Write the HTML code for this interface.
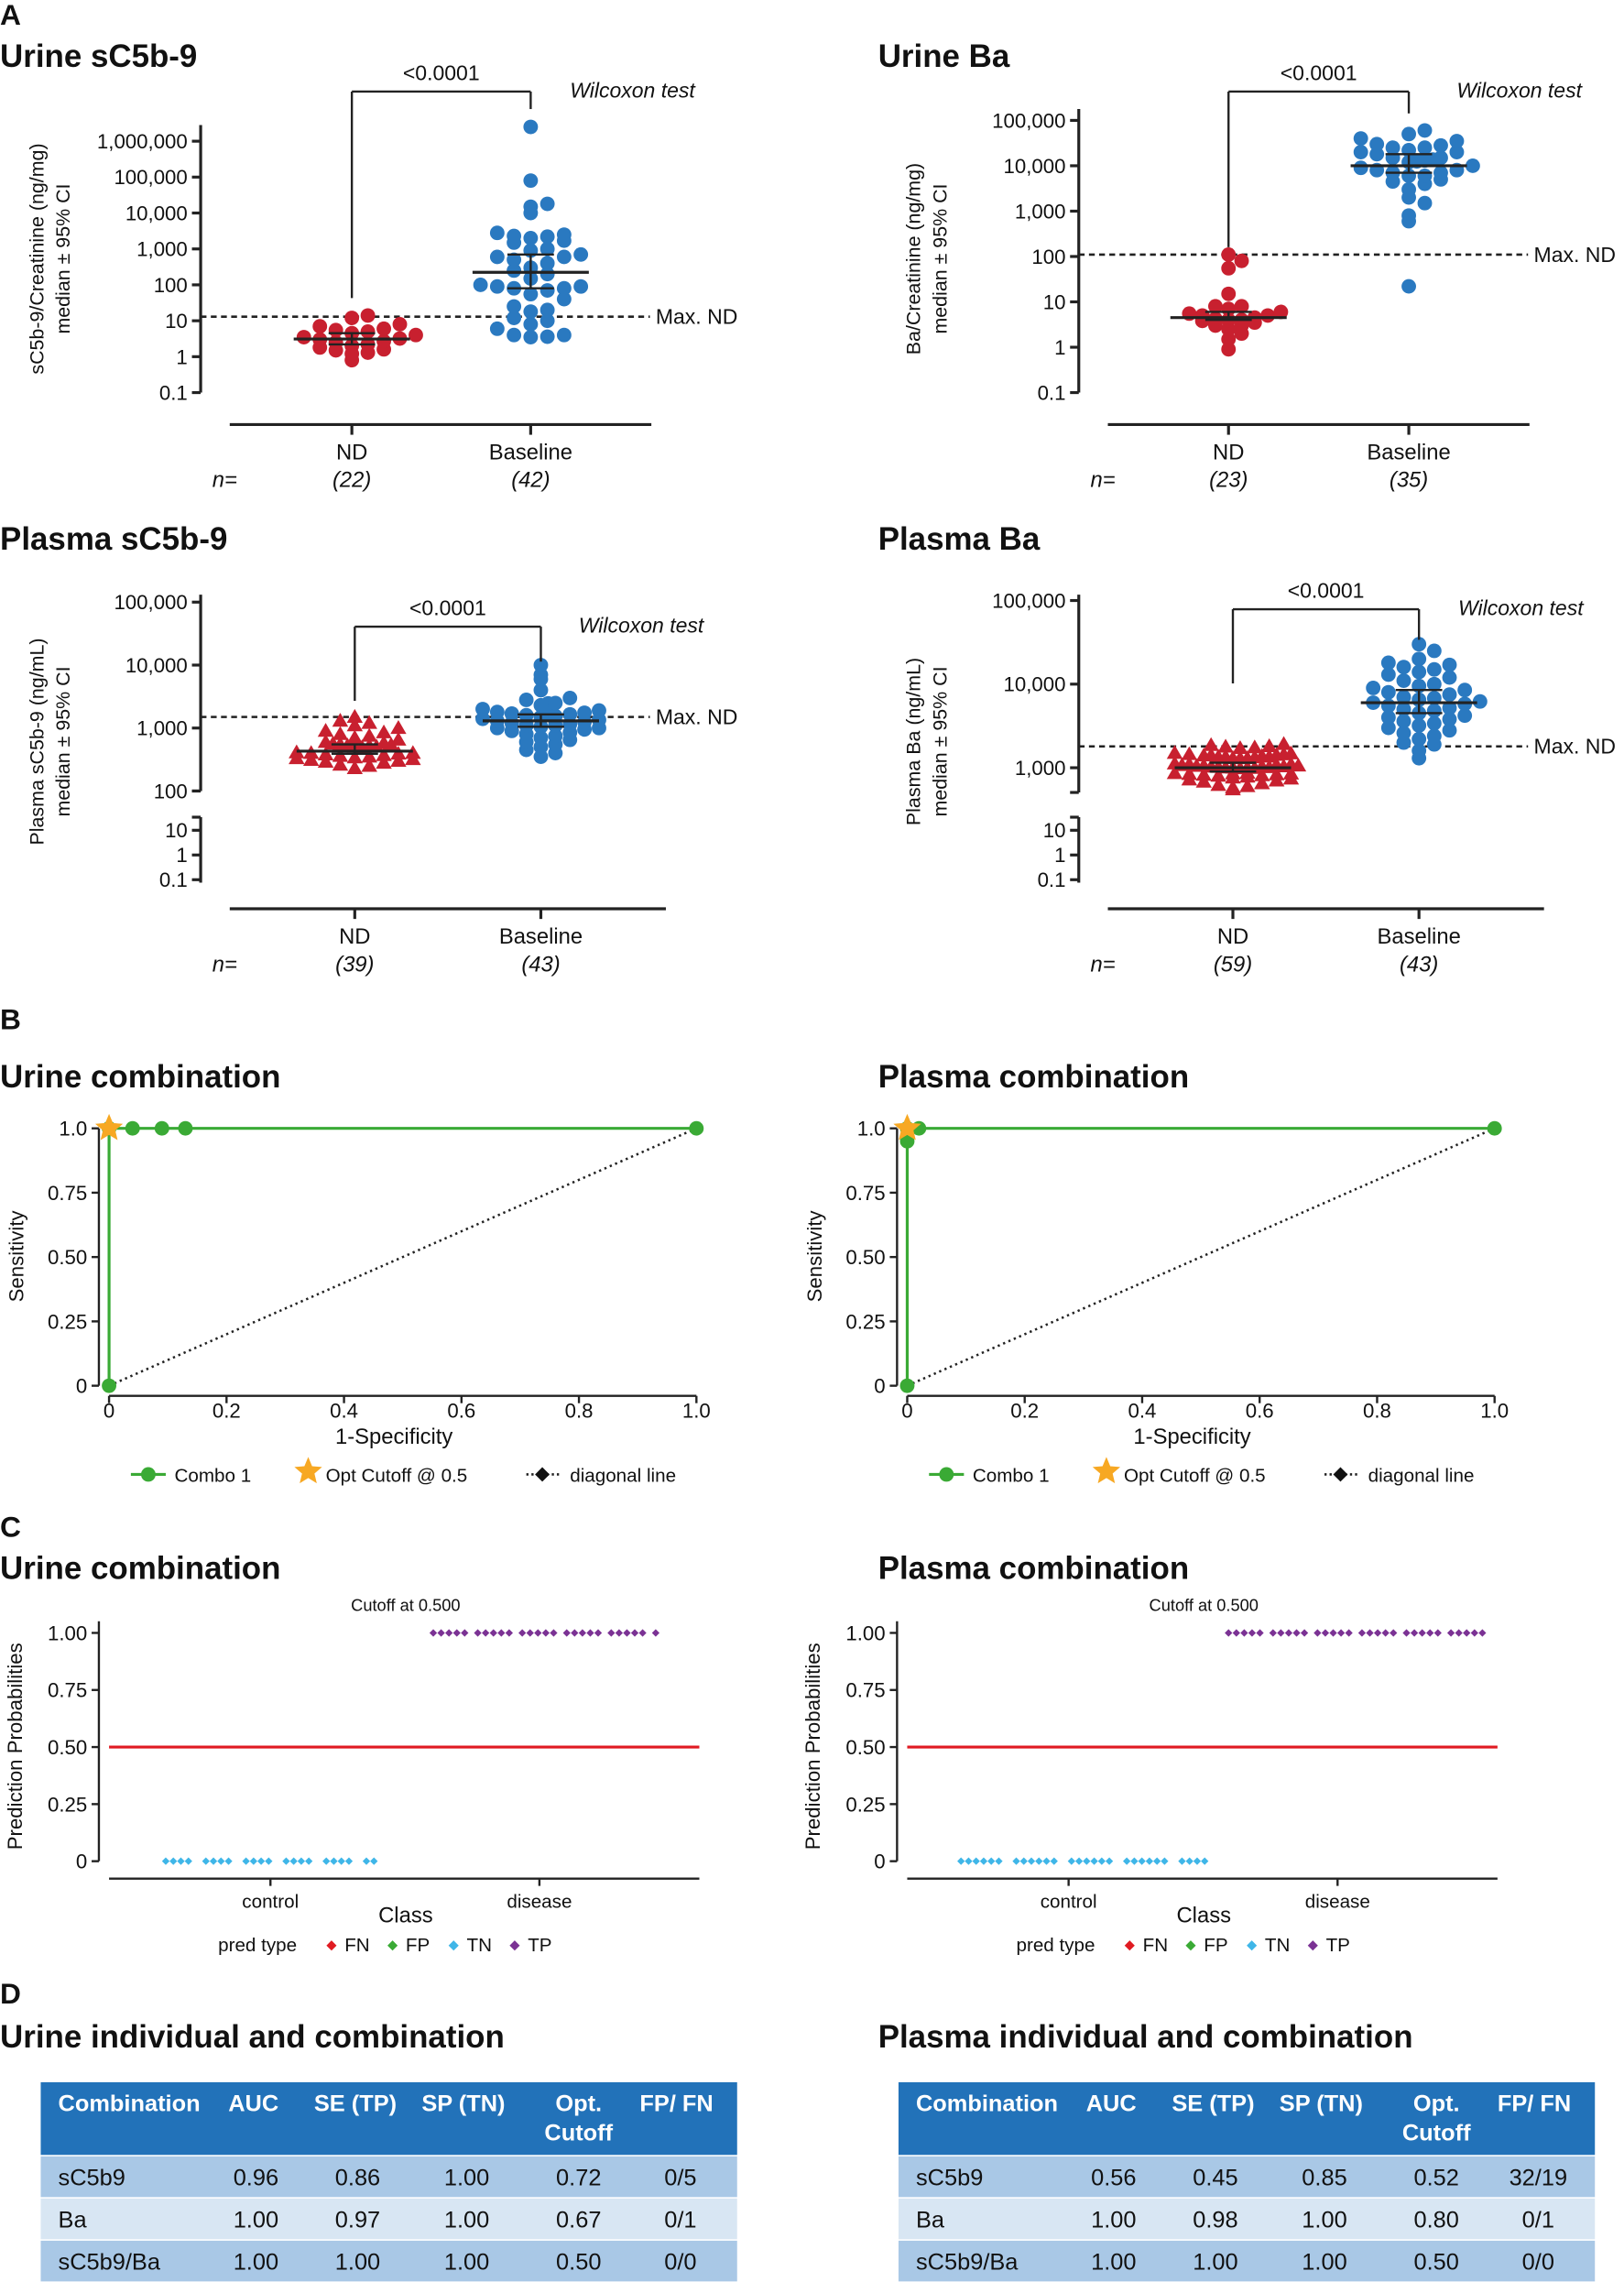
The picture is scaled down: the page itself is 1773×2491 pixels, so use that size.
<!DOCTYPE html>
<html><head><meta charset="utf-8"><style>
html,body{margin:0;padding:0;background:#fff}
svg{display:block;font-family:"Liberation Sans",Arial,sans-serif}
</style></head><body>
<svg id="fig" xmlns="http://www.w3.org/2000/svg" width="1773" height="2491" viewBox="0 0 1117 1569.4">
<g id="static" fill="#111">
<text x="0" y="17" font-size="20" font-weight="bold">A</text>
<text x="0" y="46" font-size="22" font-weight="bold">Urine sC5b-9</text>
<text x="604" y="46" font-size="22" font-weight="bold">Urine Ba</text>
<text x="0" y="378" font-size="22" font-weight="bold">Plasma sC5b-9</text>
<text x="604" y="378" font-size="22" font-weight="bold">Plasma Ba</text>
<text x="0" y="708" font-size="20" font-weight="bold">B</text>
<text x="0" y="748" font-size="22" font-weight="bold">Urine combination</text>
<text x="604" y="748" font-size="22" font-weight="bold">Plasma combination</text>
<text x="0" y="1057" font-size="20" font-weight="bold">C</text>
<text x="0" y="1086" font-size="22" font-weight="bold">Urine combination</text>
<text x="604" y="1086" font-size="22" font-weight="bold">Plasma combination</text>
<text x="0" y="1378" font-size="20" font-weight="bold">D</text>
<text x="0" y="1408" font-size="22" font-weight="bold">Urine individual and combination</text>
<text x="604" y="1408" font-size="22" font-weight="bold">Plasma individual and combination</text>
</g>
<g id="dyn"></g>
</svg>
<script>
// ---------- data ----------
const urineC5ND=[0.8,1.2,1.3,1.5,1.6,1.8,2,2.2,2.5,2.7,3,3.2,3.5,4,4.5,5,5.5,6,7,8,12,14];
const urineC5BL=[3.5,3.6,4,4,6,8,10,12,18,20,25,40,55,70,80,80,90,90,100,150,200,250,300,400,500,600,700,900,1000,1500,1700,2000,2200,2300,2500,2800,10000,15000,18000,80000,2500000,600];
const urineBaND=[0.9,1.5,2,2.5,3,3,3.5,3.8,4,4,4.2,4.5,5,5,5.5,6,7,8,8,15,55,80,110];
const urineBaBL=[22,600,800,1500,2000,3000,4000,4500,5000,6000,6000,7000,7000,8000,8000,9000,10000,10000,11000,12000,13000,15000,15000,18000,20000,20000,22000,25000,25000,28000,30000,35000,40000,50000,60000];
const plasmaC5ND=[230,250,260,280,290,300,310,320,330,340,350,360,370,380,390,400,400,410,420,430,450,460,480,500,520,550,580,600,650,700,750,800,850,900,1000,1100,1200,1300,1500];
const plasmaC5BL=[350,400,450,500,550,600,650,700,750,800,850,900,950,1000,1000,1050,1100,1100,1150,1200,1250,1300,1350,1400,1450,1500,1550,1600,1650,1700,1750,1800,1900,2000,2100,2300,2500,2800,3000,4000,6000,7000,10000];
const plasmaBaND=[550,580,600,620,650,680,700,720,740,760,780,800,810,820,830,840,850,860,870,880,890,900,910,920,930,940,950,960,980,1000,1000,1020,1040,1060,1080,1100,1100,1120,1150,1180,1200,1200,1250,1280,1300,1300,1350,1380,1400,1420,1450,1480,1500,1520,1550,1580,1600,1650,1700];
const plasmaBaBL=[1300,1600,1900,2000,2200,2400,2600,2800,3000,3200,3400,3600,3800,4000,4200,4500,4800,5000,5200,5500,5800,6000,6200,6500,6800,7000,7500,8000,8500,9000,9500,10000,11000,12000,13000,14000,15000,16000,17000,18000,20000,25000,30000];
const urineTicks=[0.1,1,10,100,1000,10000,100000,1000000];
const urineTickLabels=['0.1','1','10','100','1,000','10,000','100,000','1,000,000'];
const baTicks=[0.1,1,10,100,1000,10000,100000];
const baTickLabels=['0.1','1','10','100','1,000','10,000','100,000'];
const pC5Ticks=[100,1000,10000,100000];
const pC5TickLabels=['100','1,000','10,000','100,000'];
const pBaTicks=[1000,10000,100000];
const pBaTickLabels=['1,000','10,000','100,000'];
const brokenTicks=[0.1,1,10];
const brokenTickLabels=['0.1','1','10'];
const rocUrineFPR=[0,0,0.04,0.09,0.13,1];
const rocUrineTPR=[0,1,1,1,1,1];
const rocPlasmaFPR=[0,0,0,0.02,1];
const rocPlasmaTPR=[0,0.95,1,1,1];
const rocTicksX=[0,0.2,0.4,0.6,0.8,1.0];
const rocTickXLabels=['0','0.2','0.4','0.6','0.8','1.0'];
const rocTicksY=[0,0.25,0.5,0.75,1.0];
const rocTickYLabels=['0','0.25','0.50','0.75','1.0'];
const predUrineControl=[0,0,0,0,0,0,0,0,0,0,0,0,0,0,0,0,0,0,0,0,0,0];
const predUrineDisease=[1,1,1,1,1,1,1,1,1,1,1,1,1,1,1,1,1,1,1,1,1,1,1,1,1,1];
const predPlasmaControl=[0,0,0,0,0,0,0,0,0,0,0,0,0,0,0,0,0,0,0,0,0,0,0,0,0,0,0,0];
const predPlasmaDisease=[1,1,1,1,1,1,1,1,1,1,1,1,1,1,1,1,1,1,1,1,1,1,1,1,1,1,1,1,1,1];
const tableHeader=['Combination','AUC','SE (TP)','SP (TN)','Opt.|Cutoff','FP/ FN'];
const urineRows=[['sC5b9','0.96','0.86','1.00','0.72','0/5'],['Ba','1.00','0.97','1.00','0.67','0/1'],['sC5b9/Ba','1.00','1.00','1.00','0.50','0/0']];
const plasmaRows=[['sC5b9','0.56','0.45','0.85','0.52','32/19'],['Ba','1.00','0.98','1.00','0.80','0/1'],['sC5b9/Ba','1.00','1.00','1.00','0.50','0/0']];

// ---------- helpers ----------
const NS='http://www.w3.org/2000/svg';
const root=document.getElementById('dyn');
function mk(tag,attrs,parent){const e=document.createElementNS(NS,tag);for(const k in attrs)e.setAttribute(k,attrs[k]);(parent||root).appendChild(e);return e;}
function txt(x,y,s,attrs,name){const t=mk('text',Object.assign({x:x,y:y,'font-size':14,fill:'#111'},attrs||{}));t.textContent=s;


return t;}
function ln(x1,y1,x2,y2,attrs,name){const l=mk('line',Object.assign({x1:x1,y1:y1,x2:x2,y2:y2,stroke:'#222','stroke-width':2},attrs||{}));


return l;}
const RED='#c8202f',BLUE='#2a79c0';

// ---------- panel A ----------
function scatter(cfg){
  const yOf=v=>cfg.y0-(Math.log10(v)-Math.log10(cfg.v0))*cfg.ppd;
  ln(cfg.ax,cfg.axTop,cfg.ax,cfg.axBot,{},'y-axis-line');
  cfg.ticks.forEach((v,i)=>{ln(cfg.ax-6,yOf(v),cfg.ax,yOf(v),{},'y-tick');txt(cfg.ax-9,yOf(v)+5,cfg.labels[i],{'text-anchor':'end'},'y-tick-label');});
  if(cfg.broken){
    const b=cfg.broken;const yb=v=>b.y0-(Math.log10(v)-Math.log10(b.v0))*b.ppd;
    ln(cfg.ax,b.top,cfg.ax,b.bot,{},'y-axis-lower-segment');
    ln(cfg.ax-6,b.top,cfg.ax,b.top,{},'axis-break-tick');
    ln(cfg.ax-6,cfg.axBot,cfg.ax,cfg.axBot,{},'axis-break-tick');
    brokenTicks.forEach((v,i)=>{ln(cfg.ax-6,yb(v),cfg.ax,yb(v),{},'y-tick');txt(cfg.ax-9,yb(v)+5,brokenTickLabels[i],{'text-anchor':'end'},'y-tick-label');});
  }
  const xy=cfg.xaxY;
  ln(cfg.xl,xy,cfg.xr,xy,{},'x-axis-line');
  ln(cfg.xND,xy,cfg.xND,xy+7,{},'x-tick');ln(cfg.xBL,xy,cfg.xBL,xy+7,{},'x-tick');
  txt(cfg.xND,xy+24,'ND',{'text-anchor':'middle','font-size':15},'category-label-nd');
  txt(cfg.xBL,xy+24,'Baseline',{'text-anchor':'middle','font-size':15},'category-label-baseline');
  txt(cfg.nx,xy+43,'n=',{'font-style':'italic','font-size':15},'n-label');
  txt(cfg.xND,xy+43,'('+cfg.nd.length+')',{'text-anchor':'middle','font-style':'italic','font-size':15},'n-nd');
  txt(cfg.xBL,xy+43,'('+cfg.bl.length+')',{'text-anchor':'middle','font-style':'italic','font-size':15},'n-baseline');
  const g=mk('g',{transform:`translate(${cfg.tx},${cfg.ty}) rotate(-90)`});
  
  
  txt(0,0,cfg.t1,{'text-anchor':'middle','font-size':13.5},'y-axis-title-line1');
  g.appendChild(root.lastChild);
  txt(0,18,'median ± 95% CI',{'text-anchor':'middle','font-size':13.5},'y-axis-title-line2');
  g.appendChild(root.lastChild);
  const ym=yOf(cfg.maxND);
  ln(cfg.xl-20,ym,cfg.dashEnd,ym,{'stroke-dasharray':'4,3','stroke-width':1.6},'max-nd-line');
  txt(cfg.dashEnd+4,ym+5,'Max. ND',{'font-size':14.5},'max-nd-label');
  function pts(vals,cx,color,shape,name,bin,dx,maxCols){
    const s=vals.slice().sort((a,b)=>a-b);
    const bins={};
    s.forEach(v=>{let y=yOf(v);const k=Math.round(y/bin);bins[k]=bins[k]||0;const n=bins[k]++;
      const col=n%maxCols,row=Math.floor(n/maxCols);
      const off=(col===0?0:(col%2?1:-1)*Math.ceil(col/2))*dx+(row%2?dx/2:0);
      y+=row?(row%2?-3:3):0;
      let e;
      if(shape==='c'){e=mk('circle',{cx:cx+off,cy:y,r:5,fill:color});}
      else{e=mk('polygon',{points:`${cx+off},${y-5.5} ${cx+off+5.5},${y+4} ${cx+off-5.5},${y+4}`,fill:color});}
      
      
    });
    const med=s.length%2?s[(s.length-1)/2]:Math.sqrt(s[s.length/2-1]*s[s.length/2]);
    const lo=s[Math.floor(s.length*0.36)],hi=s[Math.ceil(s.length*0.63)];
    ln(cx-40,yOf(med),cx+40,yOf(med),{'stroke-width':2},'median-line');
    ln(cx,yOf(lo),cx,yOf(hi),{'stroke-width':1.5},'ci-bar');
    ln(cx-16,yOf(lo),cx+16,yOf(lo),{'stroke-width':1.5},'ci-cap-low');
    ln(cx-16,yOf(hi),cx+16,yOf(hi),{'stroke-width':1.5},'ci-cap-high');
  }
  pts(cfg.nd,cfg.xND,RED,cfg.ndShape,'nd-point',cfg.ndBin,cfg.ndDx,cfg.ndCols);
  pts(cfg.bl,cfg.xBL,BLUE,'c','baseline-point',cfg.blBin,cfg.blDx,cfg.blCols);
  ln(cfg.xND,cfg.brY,cfg.xND,cfg.brND,{'stroke-width':1.5},'bracket-left');
  ln(cfg.xBL,cfg.brY,cfg.xBL,cfg.brBL,{'stroke-width':1.5},'bracket-right');
  ln(cfg.xND,cfg.brY,cfg.xBL,cfg.brY,{'stroke-width':1.5},'bracket-top');
  txt((cfg.xND+cfg.xBL)/2,cfg.brY-8,'<0.0001',{'text-anchor':'middle','font-size':14.5},'p-value');
  txt(cfg.wx,cfg.brY+4,'Wilcoxon test',{'font-style':'italic','font-size':14.5},'test-label');
}
scatter({ax:138,axTop:86,axBot:270,y0:270,v0:0.1,ppd:24.7,ticks:urineTicks,labels:urineTickLabels,xaxY:292,xl:158,xr:448,xND:242,xBL:365,nx:146,
  nd:urineC5ND,bl:urineC5BL,ndShape:'c',maxND:13,dashEnd:447,tx:30,ty:178,t1:'sC5b-9/Creatinine (ng/mg)',
  ndBin:9,ndDx:11,ndCols:8,blBin:10,blDx:11.5,blCols:8,brY:63,brND:205,brBL:75,wx:392});
scatter({ax:742,axTop:75,axBot:270,y0:270,v0:0.1,ppd:31.2,ticks:baTicks,labels:baTickLabels,xaxY:292,xl:762,xr:1052,xND:845,xBL:969,nx:750,
  nd:urineBaND,bl:urineBaBL,ndShape:'c',maxND:110,dashEnd:1051,tx:633,ty:178,t1:'Ba/Creatinine (ng/mg)',
  ndBin:7,ndDx:9,ndCols:8,blBin:9,blDx:11,blCols:8,brY:63,brND:170,brBL:78,wx:1002});
scatter({ax:138,axTop:409,axBot:544,y0:544,v0:100,ppd:43.3,ticks:pC5Ticks,labels:pC5TickLabels,xaxY:625,xl:158,xr:458,xND:244,xBL:372,nx:146,
  nd:plasmaC5ND,bl:plasmaC5BL,ndShape:'t',maxND:1500,dashEnd:447,tx:30,ty:510,t1:'Plasma sC5b-9 (ng/mL)',
  ndBin:7,ndDx:10,ndCols:9,blBin:7,blDx:10,blCols:9,brY:431,brND:482,brBL:455,wx:398,
  broken:{y0:571,v0:10,ppd:17,top:562,bot:607}});
scatter({ax:742,axTop:409,axBot:545,y0:528,v0:1000,ppd:57.5,ticks:pBaTicks,labels:pBaTickLabels,xaxY:625,xl:762,xr:1062,xND:848,xBL:976,nx:750,
  nd:plasmaBaND,bl:plasmaBaBL,ndShape:'t',maxND:1800,dashEnd:1051,tx:633,ty:510,t1:'Plasma Ba (ng/mL)',
  ndBin:7,ndDx:10,ndCols:9,blBin:9,blDx:10.5,blCols:9,brY:419,brND:470,brBL:440,wx:1003,
  broken:{y0:571,v0:10,ppd:17,top:562,bot:607}});

// ---------- panel B ROC ----------
function star(cx,cy,r,fill,name){let p='';for(let i=0;i<10;i++){const a=-Math.PI/2+i*Math.PI/5;const rr=i%2?r*0.45:r;p+=(cx+rr*Math.cos(a))+','+(cy+rr*Math.sin(a))+' ';}
  const e=mk('polygon',{points:p,fill:fill});
  
  }
function diamond(cx,cy,r,fill,name){const e=mk('polygon',{points:`${cx},${cy-r} ${cx+r},${cy} ${cx},${cy+r} ${cx-r},${cy}`,fill:fill});
  
  }
function roc(o,fpr,tpr){
  const X=v=>75+o+v*404, Y=v=>953-v*177;
  ln(68+o,776,68+o,953,{'stroke-width':1.5},'roc-y-axis');
  ln(75+o,960,479+o,960,{'stroke-width':1.5},'roc-x-axis');
  rocTicksY.forEach((v,i)=>{ln(63+o,Y(v),68+o,Y(v),{'stroke-width':1.5},'roc-y-tick');txt(60+o,Y(v)+5,rocTickYLabels[i],{'text-anchor':'end'},'roc-y-tick-label');});
  rocTicksX.forEach((v,i)=>{ln(X(v),960,X(v),965,{'stroke-width':1.5},'roc-x-tick');txt(X(v),975,rocTickXLabels[i],{'text-anchor':'middle'},'roc-x-tick-label');});
  txt(271+o,993,'1-Specificity',{'text-anchor':'middle','font-size':15},'roc-x-title');
  const g=mk('g',{transform:`translate(${16+o},864) rotate(-90)`});
  
  
  txt(0,0,'Sensitivity',{'text-anchor':'middle','font-size':14},'roc-y-title-text');g.appendChild(root.lastChild);
  ln(X(0),Y(0),X(1),Y(1),{'stroke-dasharray':'1.5,2.5','stroke-width':1.6},'diagonal-line');
  const pl=mk('polyline',{points:fpr.map((f,i)=>X(f)+','+Y(tpr[i])).join(' '),fill:'none',stroke:'#3aaa35','stroke-width':2});
  
  
  fpr.forEach((f,i)=>{const c=mk('circle',{cx:X(f),cy:Y(tpr[i]),r:5,fill:'#3aaa35'});
    
    });
  star(X(0),Y(1),10,'#f7a823','opt-cutoff-star');
  ln(90+o,1014,114+o,1014,{stroke:'#3aaa35','stroke-width':2},'legend-combo-line');
  const lc=mk('circle',{cx:102+o,cy:1014,r:5,fill:'#3aaa35'});
  
  
  txt(120+o,1019,'Combo 1',{'font-size':13},'legend-combo-label');
  star(212+o,1012,10,'#f7a823','legend-star');
  txt(224+o,1019,'Opt Cutoff @ 0.5',{'font-size':13},'legend-cutoff-label');
  ln(362+o,1014,386+o,1014,{'stroke-dasharray':'1.5,2','stroke-width':1.6},'legend-diagonal-line');
  diamond(373+o,1014,5,'#111','legend-diagonal-marker');
  txt(392+o,1019,'diagonal line',{'font-size':13},'legend-diagonal-label');
}
roc(0,rocUrineFPR,rocUrineTPR);
roc(549,rocPlasmaFPR,rocPlasmaTPR);

// ---------- panel C ----------
function pred(o,ctrl,dis,cStart,cGapEvery,dStart){
  const Y=v=>1280-v*157;
  ln(68+o,1115,68+o,1280,{'stroke-width':1.5},'pred-y-axis');
  ln(75+o,1292,481+o,1292,{'stroke-width':1.5},'pred-x-axis');
  rocTicksY.forEach((v,i)=>{ln(63+o,Y(v),68+o,Y(v),{'stroke-width':1.5},'pred-y-tick');txt(60+o,Y(v)+5,['0','0.25','0.50','0.75','1.00'][i],{'text-anchor':'end'},'pred-y-tick-label');});
  ln(186+o,1292,186+o,1297,{'stroke-width':1.5},'pred-x-tick');ln(371+o,1292,371+o,1297,{'stroke-width':1.5},'pred-x-tick');
  txt(186+o,1312,'control',{'text-anchor':'middle','font-size':13},'pred-x-label-control');
  txt(371+o,1312,'disease',{'text-anchor':'middle','font-size':13},'pred-x-label-disease');
  txt(279+o,1322,'Class',{'text-anchor':'middle','font-size':15},'pred-x-title');
  txt(279+o,1108,'Cutoff at 0.500',{'text-anchor':'middle','font-size':11.5},'cutoff-label');
  const g=mk('g',{transform:`translate(${15+o},1201) rotate(-90)`});
  
  
  txt(0,0,'Prediction Probabilities',{'text-anchor':'middle','font-size':14},'pred-y-title-text');g.appendChild(root.lastChild);
  ln(75+o,Y(0.5),481+o,Y(0.5),{stroke:'#e01b22','stroke-width':2},'cutoff-line');
  let x=cStart;ctrl.forEach((v,i)=>{diamond(x+o,Y(v),2.6,'#3fb6e8','tn-point');x+=(i%cGapEvery===cGapEvery-1)?12:5.2;});
  x=dStart;dis.forEach((v,i)=>{diamond(x+o,Y(v),2.6,'#7b3294','tp-point');x+=(i%5===4)?9:5.4;});
  txt(150+o,1342,'pred type',{'font-size':13},'legend-title');
  const items=[['FN','#e01b22'],['FP','#3aaa35'],['TN','#3fb6e8'],['TP','#7b3294']];
  items.forEach((it,i)=>{diamond(228+o+i*42,1338,3.5,it[1],'legend-'+it[0].toLowerCase()+'-marker');txt(237+o+i*42,1342,it[0],{'font-size':13},'legend-'+it[0].toLowerCase()+'-label');});
}
pred(0,predUrineControl,predUrineDisease,114,4,298);
pred(549,predPlasmaControl,predPlasmaDisease,112,6,296);

// ---------- panel D tables ----------
function table(ox,rows){
  const hb=mk('rect',{x:ox,y:1432,width:479,height:50,fill:'#2272b9'});
  
  
  const cols=[12,129,188,262,348,412];
  tableHeader.forEach((h,i)=>{const parts=h.split('|');
    if(parts.length>1){txt(ox+370,1452,parts[0],{'text-anchor':'middle','font-size':16,'font-weight':'bold',fill:'#fff'},'header-cell');
      txt(ox+370,1472,parts[1],{'text-anchor':'middle','font-size':16,'font-weight':'bold',fill:'#fff'},'header-cell');}
    else txt(ox+cols[i],1452,h,{'font-size':16,'font-weight':'bold',fill:'#fff'},'header-cell');});
  const centers=[0,148,218,293,370,440];
  const fills=['#a9c8e6','#d8e6f3','#a9c8e6'];
  rows.forEach((r,j)=>{const y=1482+j*29;
    const rb=mk('rect',{x:ox,y:y+1,width:479,height:28,fill:fills[j]});
    
    
    r.forEach((c,i)=>{if(i===0)txt(ox+12,y+21,c,{'font-size':16},'row-label');
      else txt(ox+centers[i],y+21,c,{'text-anchor':'middle','font-size':16},'table-cell');});
  });
}
table(28,urineRows);
table(618,plasmaRows);
</script>
</body></html>
